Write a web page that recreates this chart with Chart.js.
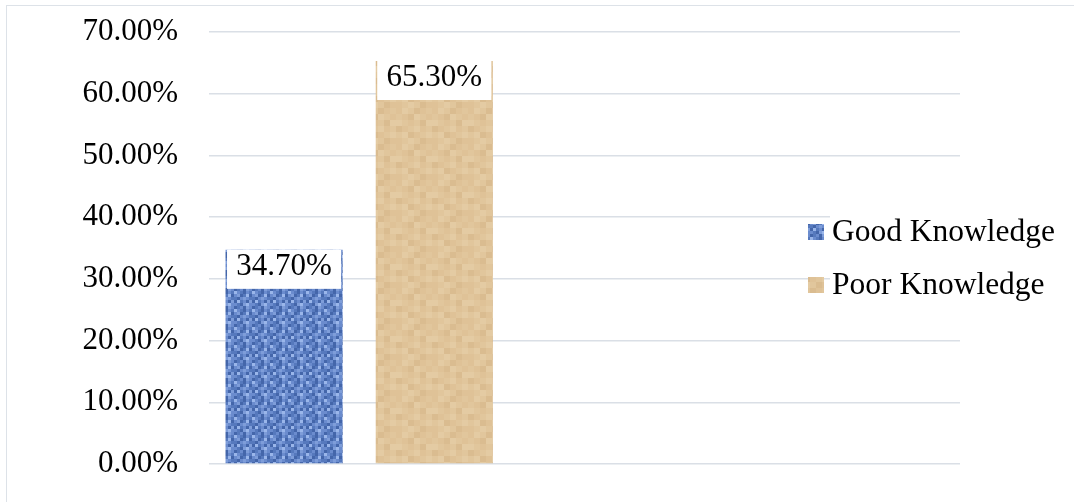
<!DOCTYPE html>
<html>
<head>
<meta charset="utf-8">
<script src="https://cdn.jsdelivr.net/npm/chart.js@4.4.0/dist/chart.umd.min.js"></script>
<style>
  html, body { margin: 0; padding: 0; background: #fff; }
  #wrap { position: relative; width: 1074px; height: 502px; overflow: hidden; }
  #frame { position: absolute; left: 6px; top: 5px; width: 1120px; height: 540px; border: 1.5px solid #dde2e8; box-sizing: border-box; }
  canvas { position: absolute; left: 0; top: 0; }
</style>
</head>
<body>
<div id="wrap">
  <div id="frame"></div>
  <canvas id="chart" width="1074" height="502"></canvas>
</div>
<script>
// data
const categories = ["Knowledge"];
const seriesNames = ["Good Knowledge", "Poor Knowledge"];
const goodValues = [34.7];
const poorValues = [65.3];
// the source chart keeps three empty series slots next to the two real ones
const emptySeries = 3;
const yTicks = [0, 10, 20, 30, 40, 50, 60, 70];

const FONT = '"Liberation Serif", "Times New Roman", serif';

// fabric-like fills for the two bars
function makeTile(cell, colors, grid) {
  const c = document.createElement("canvas");
  c.width = grid[0].length * cell; c.height = grid.length * cell;
  const g = c.getContext("2d");
  grid.forEach((row, r) => {
    row.split("").forEach((k, col) => {
      g.fillStyle = colors[k];
      g.fillRect(col * cell, r * cell, cell, cell);
    });
  });
  return g.createPattern(c, "repeat");
}

const ctx = document.getElementById("chart").getContext("2d");

const bluePattern = makeTile(3,
  { a: "#4466aa", b: "#6b8cce", c: "#9ab6ea", d: "#5679bd", e: "#7e9dd9" },
  ["adbaeb", "cbdabd", "beadca", "dabebd", "acdbae", "bdaecb"]);

const tanPattern = makeTile(6,
  { a: "#dfc297", b: "#e4cba3", c: "#dabc90", d: "#e1c69c" },
  ["abdcad", "dacbda", "bdadcb", "cadbad", "dbcadb", "adbdca"]);

const datasets = [
  { label: seriesNames[0], data: goodValues, backgroundColor: bluePattern },
  { label: seriesNames[1], data: poorValues, backgroundColor: tanPattern }
];
for (let i = 0; i < emptySeries; i++) {
  datasets.push({ label: "", data: categories.map(() => null), backgroundColor: "transparent" });
}

// white value box at the top of each bar
const valueLabels = {
  id: "valueLabels",
  afterDatasetsDraw(chart) {
    const c = chart.ctx;
    chart.data.datasets.forEach((ds, i) => {
      if (!ds.label) return;
      chart.getDatasetMeta(i).data.forEach((bar, j) => {
        const v = ds.data[j];
        if (v == null) return;
        const left = bar.x - bar.width / 2;
        c.save();
        c.fillStyle = "#fff";
        c.fillRect(left + 1.5, bar.y, bar.width - 3, 39);
        c.fillStyle = "#000";
        c.font = "31px " + FONT;
        c.textAlign = "center";
        c.textBaseline = "middle";
        c.fillText(v.toFixed(2) + "%", bar.x, bar.y + 17);
        c.restore();
      });
    });
  }
};

// legend sitting over the right part of the plot
const sideLegend = {
  id: "sideLegend",
  afterDraw(chart) {
    const c = chart.ctx;
    const area = chart.chartArea;
    const x0 = area.right - 152;
    let y = area.top + 200;
    c.save();
    c.font = "31.5px " + FONT;
    c.textBaseline = "middle";
    chart.data.datasets.forEach((ds) => {
      if (!ds.label) return;
      const w = c.measureText(ds.label).width;
      c.fillStyle = "#fff";
      c.fillRect(x0 + 22, y - 17, w + 6, 34);
      c.fillStyle = ds.backgroundColor;
      c.fillRect(x0, y - 8, 16, 16);
      c.fillStyle = "#000";
      c.fillText(ds.label, x0 + 24, y + 1);
      y += 53;
    });
    c.restore();
  }
};

new Chart(ctx, {
  type: "bar",
  data: { labels: categories, datasets: datasets },
  options: {
    responsive: false,
    animation: false,
    layout: { padding: { left: 0, top: 32, right: 114, bottom: 38 } },
    datasets: { bar: { categoryPercentage: 1.0, barPercentage: 0.78 } },
    plugins: {
      legend: { display: false },
      tooltip: { enabled: false }
    },
    scales: {
      x: { display: false, grid: { display: false } },
      y: {
        min: yTicks[0],
        max: yTicks[yTicks.length - 1],
        afterFit: (s) => { s.width = 209; s.paddingTop = 0; s.paddingBottom = 0; },
        afterBuildTicks: (s) => { s.ticks = yTicks.map(v => ({ value: v })); },
        border: { display: false },
        grid: { color: "#dadfe6", lineWidth: 1.5, drawTicks: false },
        ticks: {
          padding: 31,
          color: "#000",
          font: { family: FONT, size: 31 },
          callback: (v) => v.toFixed(2) + "%"
        }
      }
    }
  },
  plugins: [valueLabels, sideLegend]
});
</script>
</body>
</html>
